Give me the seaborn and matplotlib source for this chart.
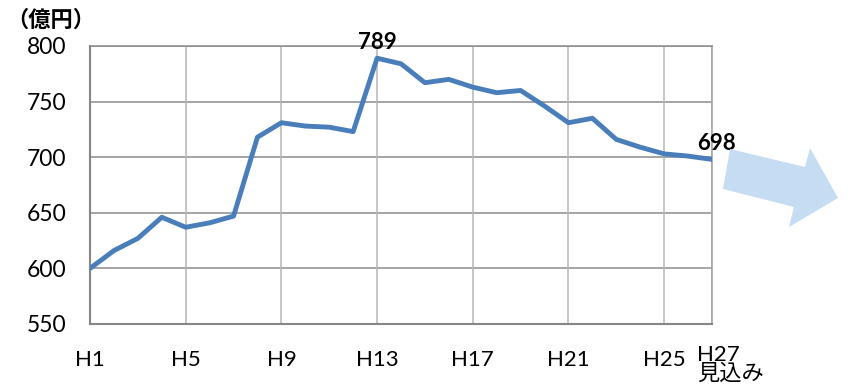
import matplotlib
matplotlib.use("Agg")
import matplotlib.pyplot as plt
import matplotlib.transforms as mtransforms
from matplotlib.patches import Polygon
import seaborn as sns
import pandas as pd

# ---- data ----
year_index = list(range(1, 28))  # H1 .. H27
values = [600, 616, 627, 646, 637, 641, 647, 718, 731, 728, 727, 723, 789,
          784, 767, 770, 763, 758, 760, 746, 731, 735, 716, 709, 703, 701, 698]
tick_positions = [1, 5, 9, 13, 17, 21, 25, 27]
tick_labels = ["H1", "H5", "H9", "H13", "H17", "H21", "H25", "H27\n見込み"]
y_ticks = [550, 600, 650, 700, 750, 800]
unit_label = "（億円）"
annot_points = [(13, 789), (27, 698)]

sns.set_theme(style="white")
plt.rcParams["font.family"] = ["Lato", "Noto Sans CJK JP", "DejaVu Sans"]

fig = plt.figure(figsize=(8.48, 3.89), dpi=100)
ax = fig.add_axes([90 / 848, 1 - 324 / 389, (712 - 90) / 848, (324 - 46) / 389])

df = pd.DataFrame({"year": year_index, "value": values})
sns.lineplot(data=df, x="year", y="value", ax=ax, color="#4a7ebb",
             linewidth=3.5, zorder=3)

ax.set_xlim(1, 27)
ax.set_ylim(550, 800)
ax.set_xlabel("")
ax.set_ylabel("")

ax.set_yticks(y_ticks)
ax.set_yticklabels([str(v) for v in y_ticks], fontsize=16.5, color="#000000")
ax.set_xticks(tick_positions)
ax.set_xticklabels(tick_labels, fontsize=16, color="#000000", linespacing=0.9)

# grid
ax.grid(False)
for y in y_ticks:
    ax.axhline(y, color="#8c8c8c", linewidth=1.1, zorder=1)
for x in tick_positions:
    ax.axvline(x, color="#b5b5b5", linewidth=1.1, zorder=1)

for side in ["top", "right"]:
    ax.spines[side].set_visible(True)
    ax.spines[side].set_color("#8c8c8c")
    ax.spines[side].set_linewidth(1.1)
ax.spines["right"].set_color("#a0a0a0")
for side in ["left", "bottom"]:
    ax.spines[side].set_color("#868686")
    ax.spines[side].set_linewidth(1.5)

ax.tick_params(axis="y", direction="out", length=7, width=1.1, color="#868686", pad=10)
ax.tick_params(axis="x", which="major", length=0, pad=19)

# minor ticks (tick marks every 8 years)
ax.xaxis.remove_overlapping_locs = False
ax.set_xticks([1, 9, 17, 25], minor=True)
ax.tick_params(axis="x", which="minor", direction="out", length=7, width=1.5, color="#868686")

# last tick label alignment
labels = ax.get_xticklabels()
last = labels[-1]
last.set_horizontalalignment("left")
last.set_multialignment("left")
offset = mtransforms.ScaledTranslation(-15 / 100, 5 / 100, fig.dpi_scale_trans)
last.set_transform(last.get_transform() + offset)
last.set_verticalalignment("top")
for lab in labels[:-1]:
    lab.set_verticalalignment("top")

# annotations
for x, y in annot_points:
    ax.annotate(str(y), xy=(x, y), xytext=(3 if x == 27 else 0, 4),
                textcoords="offset points", ha="center", va="bottom",
                fontsize=16, fontweight="bold", color="#000000", zorder=5,
                annotation_clip=False)

fig.text(6 / 848, 1 - 20 / 389, unit_label, fontsize=16, fontweight="bold",
         ha="left", va="center", color="#000000")

# decorative arrow (figure pixel coordinates)
arrow_px = [(730, 149), (805, 167), (810, 148), (838, 198), (789, 227), (794, 207), (723, 189)]
arrow_fig = [(px / 848, 1 - py / 389) for px, py in arrow_px]
fig.patches.append(Polygon(arrow_fig, closed=True, transform=fig.transFigure,
                           facecolor="#c6dcf3", edgecolor="none", figure=fig))

fig.savefig("out.png", dpi=100)
